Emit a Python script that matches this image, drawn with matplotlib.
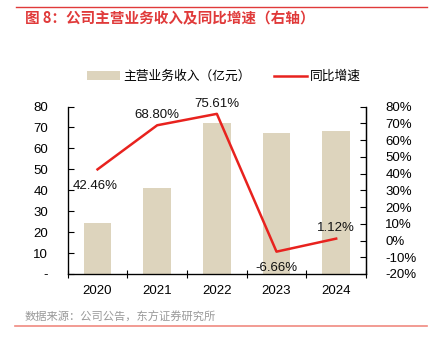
import matplotlib
matplotlib.use("Agg")
import matplotlib.pyplot as plt
from matplotlib.lines import Line2D
from matplotlib.patches import Patch

plt.rcParams['font.family'] = ['Liberation Sans', 'Noto Sans CJK SC', 'DejaVu Sans']

years = ["2020", "2021", "2022", "2023", "2024"]
revenue = [24.4, 41.1, 72.2, 67.4, 68.1]
growth = [42.46, 68.80, 75.61, -6.66, 1.12]
growth_labels = ["42.46%", "68.80%", "75.61%", "-6.66%", "1.12%"]
left_ticks = [0, 10, 20, 30, 40, 50, 60, 70, 80]
left_labels = ["-", "10", "20", "30", "40", "50", "60", "70", "80"]
right_ticks = [-20, -10, 0, 10, 20, 30, 40, 50, 60, 70, 80]
right_labels = [f"{v}%" for v in right_ticks]

bar_color = "#DDD4BD"
line_color = "#E8221E"
FS = 9.5

fig = plt.figure(figsize=(4.32, 3.43), dpi=100)
W, H = 432, 343
ax = fig.add_axes([67.7 / W, 1 - 274 / H, (366 - 67.7) / W, (274 - 106.5) / H])
x = list(range(len(years)))
ax.bar(x, revenue, width=0.46, color=bar_color, zorder=1)
ax.set_xlim(-0.5, 4.5)
ax.set_ylim(0, 80)
ax.set_yticks(left_ticks)
ax.set_yticklabels(left_labels, fontsize=FS)
ax.set_xticks(x)
ax.set_xticklabels(years, fontsize=FS)
ax.tick_params(axis='x', length=0, pad=8)
ax.set_xticks([i - 0.5 for i in range(len(years) + 1)], minor=True)
ax.tick_params(axis='x', which='minor', direction='inout', length=6, width=0.8)
ax.tick_params(axis='y', direction='in', length=4, width=0.8, pad=14)
for s in ['top']:
    ax.spines[s].set_visible(False)
for s in ['left', 'bottom', 'right']:
    ax.spines[s].set_linewidth(0.9)

ax2 = ax.twinx()
ax2.plot(x, growth, color=line_color, linewidth=1.8, zorder=3)
ax2.set_ylim(-20, 80)
ax2.set_yticks(right_ticks)
ax2.set_yticklabels(right_labels, fontsize=FS)
ax2.tick_params(axis='y', direction='in', length=4, width=0.8, pad=14)
ax2.spines['top'].set_visible(False)
ax2.spines['right'].set_linewidth(0.9)

offsets = [(-1.5, -16), (0, 3), (0, 3), (0, -16), (0, 3)]
for xi, yi, lab, (dx, dy) in zip(x, growth, growth_labels, offsets):
    ax2.annotate(lab, (xi, yi), xytext=(dx, dy), textcoords='offset points',
                 ha='center', va='bottom', fontsize=FS, color='#111111')

handles = [Patch(facecolor=bar_color, edgecolor='none'),
           Line2D([0], [0], color=line_color, linewidth=1.8)]
fig.legend(handles, ["主营业务收入（亿元）", "同比增速"], loc='center left',
           bbox_to_anchor=(86.7 / W, 1 - 77 / H), ncol=2, frameon=False,
           fontsize=9.2, handlelength=2.6, handleheight=0.75, columnspacing=1.8,
           handletextpad=0.25, borderpad=0, borderaxespad=0)

fig.text(25 / W, 1 - 18 / H, "图 8：公司主营业务收入及同比增速（右轴）", color="#E03A3A",
         fontsize=10.5, fontweight='bold', va='center', ha='left',
         family=['Noto Sans CJK SC', 'DejaVu Sans'])
fig.text(25 / W, 1 - 317 / H, "数据来源：公司公告，东方证券研究所", color="#999999",
         fontsize=8.1, va='center', ha='left', family=['Noto Sans CJK SC', 'DejaVu Sans'])
fig.add_artist(Line2D([16 / W, 427 / W], [1 - 7 / H, 1 - 7 / H], color="#E03A3A", linewidth=1.0))
fig.add_artist(Line2D([15 / W, 427 / W], [1 - 326 / H, 1 - 326 / H], color="#F08A80", linewidth=1.2))

fig.savefig("out.png", dpi=100)
